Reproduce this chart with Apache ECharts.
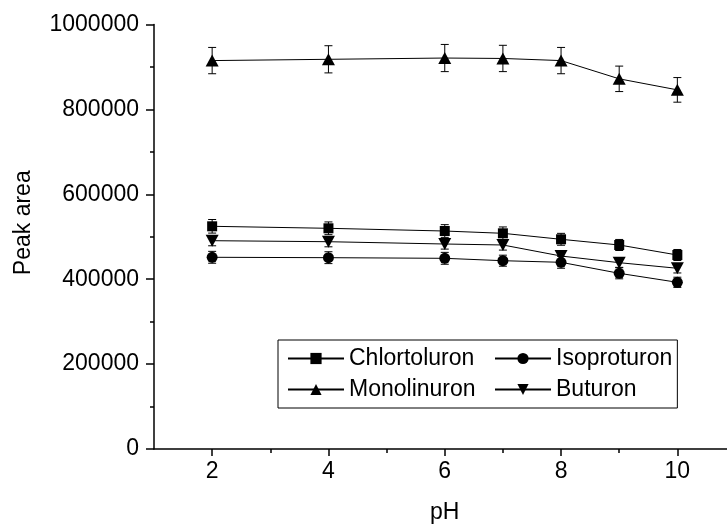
<!DOCTYPE html>
<html>
<head>
<meta charset="utf-8">
<script src="https://cdn.jsdelivr.net/npm/echarts@6/dist/echarts.min.js"></script>
<style>
  html, body { margin: 0; background: #fff; }
  #chart { width: 727px; height: 526px; }
</style>
</head>
<body>
<div id="chart"></div>
<script>
// pH values and peak areas
const phValues = [2, 4, 6, 7, 8, 9, 10];
const chlortoluron = [524600, 519900, 513500, 508100, 494000, 480600, 457000];
const chlortoluronErr = [16000, 15000, 15000, 15000, 14000, 13000, 13000];
const isoproturon = [451600, 450700, 449200, 443600, 439800, 413900, 392700];
const isoproturonErr = [14000, 14000, 14000, 13000, 14000, 13000, 12000];
const monolinuron = [915000, 918000, 921000, 920000, 915000, 872000, 846000];
const monolinuronErr = [31000, 32000, 32000, 31000, 31000, 30000, 29000];
const buturon = [490700, 488300, 482900, 480600, 454600, 438900, 425700];
const buturonErr = [12000, 12000, 12000, 12000, 12000, 11000, 11000];

const xMajorTicks = [2, 4, 6, 8, 10];
const xMinorTicks = [3, 5, 7, 9];

const FONT = "'Liberation Sans', Arial, sans-serif";
const INK = '#000';
const FS = 23;

const chart = echarts.init(document.getElementById('chart'));

function pairs(ys) {
    return phValues.map((x, i) => [x, ys[i]]);
}

function errData(ys, errs) {
    return phValues.map((x, i) => [x, ys[i], errs[i]]);
}

function errorBarItem(params, api) {
    const x = api.value(0), y = api.value(1), e = api.value(2);
    const top = api.coord([x, y + e]);
    const bot = api.coord([x, y - e]);
    const hw = 4;
    const style = { stroke: INK, lineWidth: 1 };
    return {
        type: 'group',
        children: [
            { type: 'line', shape: { x1: top[0], y1: top[1], x2: bot[0], y2: bot[1] }, style },
            { type: 'line', shape: { x1: top[0] - hw, y1: top[1], x2: top[0] + hw, y2: top[1] }, style },
            { type: 'line', shape: { x1: bot[0] - hw, y1: bot[1], x2: bot[0] + hw, y2: bot[1] }, style },
        ],
    };
}

function lineSeries(name, ys, symbol, size, rotate) {
    return {
        name,
        type: 'line',
        data: pairs(ys),
        symbol,
        symbolSize: size,
        symbolRotate: rotate || 0,
        showAllSymbol: true,
        itemStyle: { color: INK },
        lineStyle: { color: INK, width: 1 },
        z: 3,
    };
}

function errSeries(name, ys, errs) {
    return {
        name: name + ' error',
        type: 'custom',
        renderItem: errorBarItem,
        data: errData(ys, errs),
        encode: { x: 0, y: 1 },
        z: 2,
        silent: true,
    };
}

const option = {
    animation: false,
    textStyle: { fontFamily: FONT, color: INK },
    grid: { left: 154, right: -8.5, top: 24.5, bottom: 77, outerBoundsMode: 'none' },
    legend: {
        data: ['Chlortoluron', 'Isoproturon', 'Monolinuron', 'Buturon'],
        left: 278,
        top: 340,
        orient: 'horizontal',
        padding: [7, 5, 7, 9],
        itemGap: 8,
        itemWidth: 56,
        itemHeight: 14,
        borderColor: INK,
        borderWidth: 1,
        formatter: (name) => (name === 'Chlortoluron' || name === 'Monolinuron')
            ? '{c1|' + name + '}' : '{c2|' + name + '}',
        textStyle: {
            fontFamily: FONT,
            fontSize: FS,
            color: INK,
            lineHeight: 22,
            rich: {
                c1: { fontFamily: FONT, fontSize: FS, color: INK, width: 137, lineHeight: 22 },
                c2: { fontFamily: FONT, fontSize: FS, color: INK, lineHeight: 22 },
            },
        },
    },
    xAxis: [{
        type: 'value',
        min: 1,
        max: 11,
        interval: 1,
        name: 'pH',
        nameLocation: 'middle',
        nameGap: 52,
        nameTextStyle: { fontFamily: FONT, fontSize: FS, color: INK },
        splitLine: { show: false },
        axisLine: { lineStyle: { color: INK, width: 1.5 } },
        axisTick: { customValues: xMajorTicks, length: 7, lineStyle: { color: INK, width: 1.5 } },
        axisLabel: { customValues: xMajorTicks, fontFamily: FONT, fontSize: FS, color: INK, margin: 11 },
    }, {
        type: 'value',
        position: 'bottom',
        min: 1,
        max: 11,
        interval: 1,
        splitLine: { show: false },
        axisLine: { show: false },
        axisLabel: { show: false },
        axisTick: { customValues: xMinorTicks, length: 4, lineStyle: { color: INK, width: 1.5 } },
    }],
    yAxis: {
        type: 'value',
        min: 0,
        max: 1000000,
        interval: 200000,
        name: 'Peak area',
        nameLocation: 'middle',
        nameRotate: 90,
        nameGap: 119,
        nameTextStyle: { fontFamily: FONT, fontSize: FS, color: INK, padding: [0, 0, 0, 28] },
        splitLine: { show: false },
        axisLine: { show: true, lineStyle: { color: INK, width: 1.5 } },
        axisTick: { length: 8, lineStyle: { color: INK, width: 1.5 } },
        minorTick: { show: true, splitNumber: 2, length: 4, lineStyle: { color: INK, width: 1.5 } },
        axisLabel: {
            fontFamily: FONT, fontSize: FS, color: INK, margin: 15,
            formatter: (v) => String(v),
        },
    },
    series: [
        errSeries('Chlortoluron', chlortoluron, chlortoluronErr),
        errSeries('Isoproturon', isoproturon, isoproturonErr),
        errSeries('Monolinuron', monolinuron, monolinuronErr),
        errSeries('Buturon', buturon, buturonErr),
        lineSeries('Chlortoluron', chlortoluron, 'rect', 10),
        lineSeries('Isoproturon', isoproturon, 'circle', 11),
        lineSeries('Monolinuron', monolinuron, 'triangle', [13, 12]),
        lineSeries('Buturon', buturon, 'triangle', [13, 12], 180),
    ],
};

chart.setOption(option);
</script>
</body>
</html>
